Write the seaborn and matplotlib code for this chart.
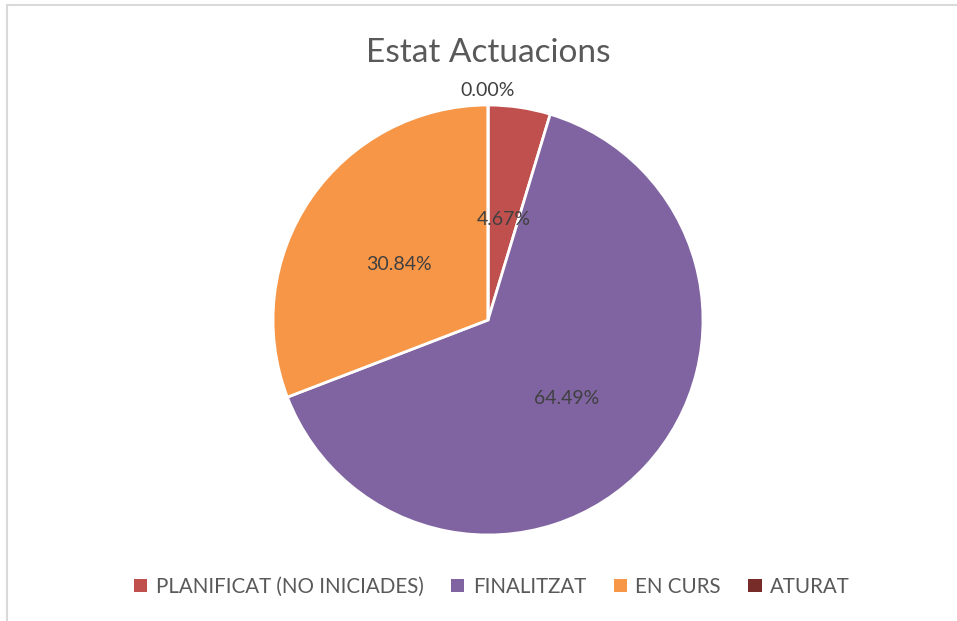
import matplotlib
matplotlib.use("Agg")
import matplotlib.pyplot as plt
from matplotlib.lines import Line2D
from matplotlib.patches import Patch
import seaborn as sns

# Chart data
categories = ["PLANIFICAT (NO INICIADES)", "FINALITZAT", "EN CURS", "ATURAT"]
counts = [5, 69, 33, 0]
colors = ["#C0504D", "#8064A2", "#F79646", "#772C2A"]

sns.set_theme(style="white")
plt.rcParams['font.family'] = ['Lato', 'DejaVu Sans']
text_color = "#595959"

fig = plt.figure(figsize=(9.57, 6.21), dpi=100)
ax = fig.add_axes([0.2853, 0.1385, 0.4493, 0.6924])

wedges, texts, autotexts = ax.pie(
    counts, colors=colors, startangle=90, counterclock=False,
    autopct='%1.2f%%', pctdistance=0.5,
    wedgeprops=dict(edgecolor='white', linewidth=2),
    textprops=dict(color="#404040", fontsize=14))
ax.set_aspect('equal')
ax.set_xlim(-1, 1)
ax.set_ylim(-1, 1)

# nudge inner labels down a little, as in the original
for t in autotexts[:-1]:
    x, y = t.get_position()
    t.set_position((x, y - 0.025))

# zero slice label sits outside the pie, like Excel
autotexts[-1].set_position((0.0, 1.066))
autotexts[-1].set_va('center')

fig.text(0.51, 0.915, "Estat Actuacions", ha='center', va='center',
         fontsize=24, color=text_color)

handles = [Patch(facecolor=c, edgecolor='none') for c in colors]
fig.legend(handles, categories, loc='center', bbox_to_anchor=(0.514, 0.055),
           ncol=4, frameon=False, fontsize=14.8, handlelength=0.65,
           handleheight=0.65, handletextpad=0.4, columnspacing=1.35,
           labelcolor=text_color)

# light chart border
fig.add_artist(Line2D([0.0075, 0.0075], [0, 0.992], color="#D9D9D9", lw=1.5,
                      transform=fig.transFigure))
fig.add_artist(Line2D([0.0075, 1], [0.992, 0.992], color="#D9D9D9", lw=1.5,
                      transform=fig.transFigure))

fig.savefig("out.png", dpi=100)
